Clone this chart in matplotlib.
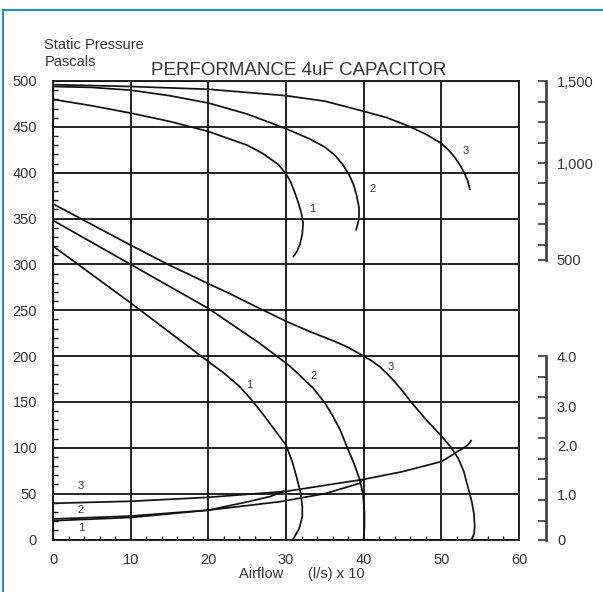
import matplotlib
matplotlib.use('Agg')
import matplotlib.pyplot as plt
from matplotlib.ticker import FixedLocator, MultipleLocator
from matplotlib.patches import Rectangle

plt.rcParams['font.family'] = ['Liberation Sans', 'DejaVu Sans']

# ---------------- data ----------------
x_ticks = [0, 10, 20, 30, 40, 50, 60]
y_ticks = [0, 50, 100, 150, 200, 250, 300, 350, 400, 450, 500]

# speed curves (drawn in the static-pressure units of the main axis)
speed1_x = [0, 5, 10, 15, 20, 25, 27, 29, 30, 30.6, 31.1, 31.6, 32.0, 32.2, 32.1, 31.8, 31.4, 30.9]
speed1_y = [480, 473, 465, 456, 445, 430, 421, 409, 399, 390, 379, 367, 355, 345, 333, 322, 314, 308]
speed2_x = [0, 5, 10, 15, 20, 25, 30, 33, 35, 36.3, 37.3, 38.1, 38.7, 39.1, 39.4, 39.4, 39.2, 39.0]
speed2_y = [494, 493, 490, 484, 476, 464, 448, 437, 428, 419, 409, 398, 387, 375, 362, 350, 343, 337]
speed3_x = [0, 10, 20, 30, 35, 40, 43, 46, 48, 50, 51, 51.8, 52.5, 53.0, 53.4, 53.7]
speed3_y = [496, 494, 491, 484, 478, 467, 460, 450, 442, 432, 424, 416, 407, 399, 391, 381]

# static pressure curves
press1_x = [0, 5, 10, 15, 20, 22, 24, 25.6, 27, 28.5, 30, 30.8, 31.4, 31.9, 32.1, 32.1, 31.7, 30.9]
press1_y = [320, 289, 258, 226, 194, 181.5, 167, 152, 137, 120, 103, 85, 67, 50, 36, 25, 12, 0]
press2_x = [0, 5, 10, 15, 20, 24, 26.6, 28.8, 30.5, 31.9, 33.5, 35, 36, 37, 37.9, 38.8, 39.5, 39.9, 40.1, 40.1, 40.0]
press2_y = [348, 324, 300, 276, 252, 229, 214, 200, 189, 178, 165, 149, 135, 119, 100, 82, 65, 50, 30, 15, 0]
press3_x = [0, 10, 14.8, 20, 22.8, 26.6, 30, 33, 36, 38, 40, 41, 42, 43, 44, 45, 46, 48, 50, 51.3, 52.2, 52.9,
            53.4, 53.9, 54.2, 54.3, 54.2, 53.9]
press3_y = [366, 321, 300, 279, 268, 252, 238, 227, 217, 209.5, 200, 195, 189, 181, 172, 162, 151, 131, 113, 100, 88, 74,
            58, 42, 28, 14, 6, 0]

# current curves
amp1_x = [0, 10, 20, 25, 28, 29.8]
amp1_y = [20.5, 24, 32, 41, 47, 53]
amp2_x = [0, 10, 20, 25, 29.2, 35, 39.5, 39.9]
amp2_y = [22.4, 25.6, 32, 37, 41.2, 50, 61.3, 65.6]
amp3_x = [0, 10, 20, 30, 40, 45, 50, 51, 52, 52.8, 53.4, 53.9]
amp3_y = [39.5, 41.7, 46, 52.5, 65.6, 74, 85, 90, 95.5, 99.5, 103, 108.5]

curve_labels = ['1', '2', '3']
speed_label_pos = [(33.4, 360), (41.2, 382), (53.1, 424)]
press_label_pos = [(25.3, 168), (33.5, 178), (43.5, 188)]
amp_label_pos = [(3.6, 13), (3.6, 32), (3.6, 58)]

# right-hand scales (positions in main-axis units)
rpm_labels = ['500', '1,000', '1,500']
rpm_label_pos = [304.8, 410, 499.5]
rpm_tick_pos = [304.8, 321.7, 344.6, 366.4, 388.3, 410.8, 432.6, 455.6, 477.4, 500]
amp_scale_labels = ['0', '1.0', '2.0', '3.0', '4.0']
amp_scale_label_pos = [0, 49.3, 102.7, 144.8, 199.5]
amp_tick_pos = [0, 20.7, 43.3, 65.5, 88, 110.6, 133, 155.5, 177.4, 200]

# ---------------- figure ----------------
W, H = 603, 592
fig = plt.figure(figsize=(W / 100, H / 100), dpi=100)
L, R, T, B = 53, 519, 81, 539.5
ax = fig.add_axes([L / W, (H - B) / H, (R - L) / W, (B - T) / H])

txt = '#333333'
line_kw = dict(color='#111111', lw=1.25, solid_capstyle='butt', solid_joinstyle='round')

for xs, ys in [(speed1_x, speed1_y), (speed2_x, speed2_y), (speed3_x, speed3_y),
               (press1_x, press1_y), (press2_x, press2_y), (press3_x, press3_y),
               (amp1_x, amp1_y), (amp2_x, amp2_y), (amp3_x, amp3_y)]:
    ax.plot(xs, ys, **line_kw, zorder=3)

for lab, (sx, sy), (px, py), (ax_, ay) in zip(curve_labels, speed_label_pos,
                                              press_label_pos, amp_label_pos):
    for (u, v) in [(sx, sy), (px, py), (ax_, ay)]:
        ax.text(u, v, lab, fontsize=8, color=txt, ha='center', va='center', zorder=4)

ax.set_xlim(0, 60)
ax.set_ylim(0, 500)
ax.set_xticks(x_ticks)
ax.set_yticks(y_ticks)
ax.xaxis.set_minor_locator(MultipleLocator(2))
ax.yaxis.set_minor_locator(MultipleLocator(10))
ax.grid(True, which='major', color='#111111', lw=1.3, zorder=1)
ax.set_axisbelow(True)
for s in ax.spines.values():
    s.set_color('#111111')
    s.set_linewidth(1.3)
ax.tick_params(which='major', length=0, labelsize=10.5, labelcolor=txt)
ax.tick_params(axis='y', which='major', pad=11.5)
ax.tick_params(axis='x', which='major', pad=9.5)
ax.tick_params(axis='x', which='minor', direction='in', length=3.2, width=1.0,
               color='#111111', top=False)
ax.tick_params(axis='y', which='minor', direction='in', length=3.8, width=1.0,
               color='#111111', right=False)

ax.set_xlabel('Airflow      (l/s) x 10', fontsize=10.5, color=txt)
ax.xaxis.label.set_va('center')
ax.xaxis.set_label_coords(0.535, (B - 574) / (B - T))

fig.text(44.3 / W, 1 - 48.7 / H, 'Static Pressure', fontsize=10.5, color=txt,
         ha='left', va='baseline')
fig.text(44.3 / W, 1 - 66 / H, 'Pascals', fontsize=10.5, color=txt,
         ha='left', va='baseline')
fig.text(298.3 / W, 1 - 75 / H, 'PERFORMANCE 4uF CAPACITOR', fontsize=13.5,
         color=txt, ha='center', va='baseline')


def side_scale(y0, y1, label_pos, labels, tick_pos):
    sc = ax.inset_axes([61.0, y0, 2.45, y1 - y0], transform=ax.transData)
    sc.set_ylim(y0, y1)
    sc.set_xticks([])
    sc.patch.set_alpha(0)
    for k, s in sc.spines.items():
        s.set_visible(k == 'right')
    sc.spines['right'].set_color('#444444')
    sc.spines['right'].set_linewidth(2.0)
    sc.yaxis.tick_right()
    sc.yaxis.remove_overlapping_locs = False
    sc.yaxis.set_major_locator(FixedLocator(label_pos))
    sc.set_yticklabels(labels)
    sc.yaxis.set_minor_locator(FixedLocator(tick_pos))
    sc.tick_params(which='major', length=0, pad=8, labelsize=10.5, labelcolor=txt)
    sc.tick_params(which='minor', direction='in', length=6, width=1.3,
                   color='#444444')
    return sc


side_scale(304.8, 500, rpm_label_pos, rpm_labels, rpm_tick_pos)
side_scale(0, 200, amp_scale_label_pos, amp_scale_labels, amp_tick_pos)

fig.patches.append(Rectangle((3.3 / W, -0.1), 1.2, (H - 10.3) / H + 0.1,
                             transform=fig.transFigure, fill=False,
                             edgecolor='#2b8ad8', lw=1.5, clip_on=False))

fig.savefig('out.png', dpi=100)
